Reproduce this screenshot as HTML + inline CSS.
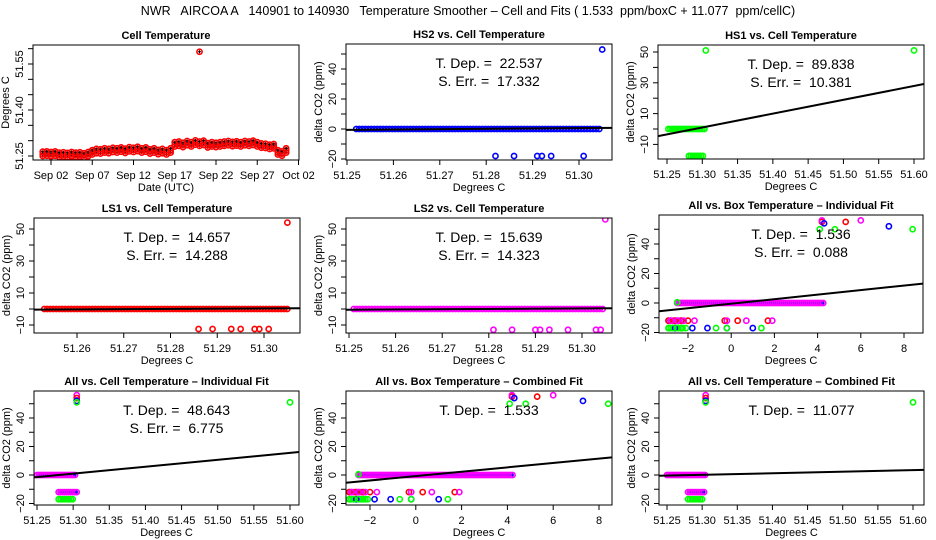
<!DOCTYPE html>
<html><head><meta charset="utf-8"><style>
body{margin:0;background:#fff;}
svg{display:block;font-family:"Liberation Sans",sans-serif;}
.pre{white-space:pre;}
</style></head><body>
<svg id="c" width="936" height="540" xmlns="http://www.w3.org/2000/svg">
<rect width="936" height="540" fill="#fff"/>
<text class="pre" x="468" y="15" text-anchor="middle" font-size="12.5">NWR   AIRCOA A   140901 to 140930   Temperature Smoother – Cell and Fits ( 1.533  ppm/boxC + 11.077  ppm/cellC)</text>
</svg>
<script>
// ---------- data ----------
const p1Values = [51.257,51.258,51.256,51.258,51.254,51.255,51.253,51.256,51.254,51.255,51.252,51.256,
 51.262,51.266,51.265,51.268,51.266,51.270,51.268,51.271,51.267,51.272,
 51.270,51.273,51.268,51.271,51.265,51.268,51.263,51.266,51.262,51.268,
 51.288,51.290,51.286,51.292,51.288,51.294,51.290,51.293,51.285,51.288,
 51.286,51.288,51.290,51.292,51.289,51.291,51.288,51.292,51.290,51.293,
 51.288,51.284,51.283,51.280,51.282,51.262,51.258,51.268];
const p1StartDay = 1.0;
const p1OutlierDay = [20.0];
const p1OutlierVal = [51.59];
const p1TickDays = [2,7,12,17,22,27,32];
const p1TickLabels = ["Sep 02","Sep 07","Sep 12","Sep 17","Sep 22","Sep 27","Oct 02"];

const hs2OutX = [51.282,51.286,51.291,51.292,51.294,51.301,51.305];
const hs2OutY = [-18,-18,-18,-18,-18,-18,53];
const hs1OutX = [51.305,51.60];
const hs1OutY = [51,51];
const ls1OutX = [51.286,51.289,51.293,51.295,51.298,51.299,51.301,51.305];
const ls1OutY = [-12.5,-12.5,-12.5,-12.5,-12.5,-12.5,-12.5,54];
const ls2OutX = [51.281,51.285,51.290,51.291,51.293,51.297,51.303,51.304,51.305];
const ls2OutY = [-13,-13,-13,-13,-13,-13,-13,-13,56];
const boxRedX = [-2.9,-2.6,-2.3,-2.0,-0.3,0.3,1.7,4.2,5.3];
const boxRedY = [-12,-12,-12,-12,-12,-12,-12,55,55];
const boxMagX = [-2.8,-2.5,-2.2,-1.7,-0.2,0.7,1.9,4.2,6.0];
const boxMagY = [-12,-12,-12,-12,-12,-12,-12,56,56];
const boxBlueX = [-2.6,-1.8,-1.1,-0.2,1.0,4.3,7.3];
const boxBlueY = [-17,-17,-17,-17,-17,54,52];
const boxGreenX = [-2.9,-2.7,-2.5,-2.3,-2.1,-0.7,-0.2,1.4,-2.5,4.1,4.8,8.4];
const boxGreenY = [-17,-17,-17,-17,-17,-17,-17,-17,0.5,50,50,50];
const cellAllX = [51.305,51.305,51.305,51.305,51.60];
const cellAllY = [56,54,52,51,51];
const cellAllC = ["#ff00ff","#ff0000","#0000ff","#00ff00","#00ff00"];

// fit lines: slope and x where line crosses 0
const fitSlope = [22.537,89.838,14.657,15.639,1.536,48.643,1.533,11.077];
const fitZero  = [51.275,51.289,51.275,51.278,0.3,51.281,0.5,51.29];
const tdepText = ["22.537","89.838","14.657","15.639","1.536","48.643","1.533","11.077"];
const serrText = ["17.332","10.381","14.288","14.323","0.088","6.775",null,null];

// ---------- helpers ----------
const svg=document.getElementById('c');
const NS='http://www.w3.org/2000/svg';
function el(tag,attrs,parent){const e=document.createElementNS(NS,tag);for(const k in attrs)e.setAttribute(k,attrs[k]);(parent||svg).appendChild(e);return e;}
function sc(v0,p0,v1,p1){const k=(p1-p0)/(v1-v0);return v=>p0+(v-v0)*k;}
function rng(a,b,s){const r=[];for(let v=a;v<=b+s*1e-6;v+=s)r.push(+v.toFixed(6));return r;}

function panel(o){
  const g=el('g',{});
  
  
  const [L,T,R,B]=o.box;
  const t=el('text',{x:(L+R)/2,y:T-6,'text-anchor':'middle','font-size':11,'font-weight':'bold'},g);
  t.textContent=o.title;
  
  
  const clipId='cl'+Math.round(L)+'_'+Math.round(T);
  const cp=el('clipPath',{id:clipId},g);el('rect',{x:L,y:T,width:R-L,height:B-T},cp);
  const plot=el('g',{'clip-path':'url(#'+clipId+')'},g);
  o.draw(plot,o.x,o.y);
  const fr=el('rect',{x:L,y:T,width:R-L,height:B-T,fill:'none',stroke:'#000','stroke-width':1},g);
  
  
  o.xt.forEach((v,i)=>{const px=o.x(v);
    el('line',{x1:px,x2:px,y1:B,y2:B+5,stroke:'#000'},g);
    const lab=o.xl?o.xl[i]:v.toFixed(o.xd);
    if(lab!==''){const tx=el('text',{x:px,y:B+19,'text-anchor':'middle','font-size':11},g);tx.textContent=lab;
      
      }
  });
  const xa=el('text',{x:(L+R)/2,y:B+31,'text-anchor':'middle','font-size':11},g);xa.textContent=o.xlab;
  
  
  o.yt.forEach(v=>{const py=o.y(v);el('line',{x1:L-5,x2:L,y1:py,y2:py,stroke:'#000'},g);});
  o.ylv.forEach(v=>{const py=o.y(v);
    const tx=el('text',{x:L-10,y:py,'text-anchor':'middle','font-size':11,transform:`rotate(-90 ${L-10} ${py})`},g);
    tx.textContent=o.yd?v.toFixed(o.yd):String(v).replace('-','−');
    
    
  });
  const yl=el('text',{x:L-24,y:(T+B)/2,'text-anchor':'middle','font-size':11,transform:`rotate(-90 ${L-24} ${(T+B)/2})`},g);
  yl.textContent=o.ylab;
  
  
  if(o.fit!==undefined){
    const s=fitSlope[o.fit],z=fitZero[o.fit];
    const xa0=o.x.inv(L),xa1=o.x.inv(R);
    const ln=el('line',{x1:L,y1:o.y(s*(xa0-z)),x2:R,y2:o.y(s*(xa1-z)),stroke:'#000','stroke-width':2},plot);
    
    
    const cx=(L+R)/2+10;
    const a=el('text',{x:cx,y:T+24,'text-anchor':'middle','font-size':14,'class':'pre'},g);a.textContent='T. Dep. =  '+tdepText[o.fit];
    
    
    if(serrText[o.fit]){const b=el('text',{x:cx,y:T+42,'text-anchor':'middle','font-size':14,'class':'pre'},g);b.textContent='S. Err. =  '+serrText[o.fit];
      
      }
  }
}
function lin(v0,p0,v1,p1){const f=sc(v0,p0,v1,p1);f.inv=sc(p0,v0,p1,v1);return f;}
function circ(g,px,py,col,cross){
  const c=el('circle',{cx:px,cy:py,r:2.6,fill:'none',stroke:col,'stroke-width':1.6},g);
  
  
  if(cross)el('path',{d:`M${px-1.5} ${py}h3M${px} ${py-1.5}v3`,stroke:cross,'stroke-width':1},g);
}
function band(g,x,y,a,b,lev,col,cross,step){
  const pa=x(a),pb=x(b);for(let p=pa;p<=pb+0.01;p+=(step||3))circ(g,p,y(lev),col,cross);
}
const CELLY=[-20,-10,0,10,20,30,40,50], CELLYL=[-20,0,20,40];

// ---------- P1 ----------
{const x=lin(2,51,32,298.5),y=lin(51.25,156,51.55,64);
panel({name:'cell-temperature-panel',title:'Cell Temperature',box:[33,45,299,160],x,y,
 xt:p1TickDays,xl:p1TickLabels,xlab:'Date (UTC)',yt:rng(51.25,51.60,0.05),ylv:[51.25,51.40,51.55],yd:2,ylab:'Degrees C',
 draw:(g,x,y)=>{p1Values.forEach((v,i)=>{const d=p1StartDay+i*0.5;[-0.007,0,0.007].forEach(o=>circ(g,x(d),y(v+o),'#ff0000','#000'));});
  p1OutlierDay.forEach((d,i)=>circ(g,x(d),y(p1OutlierVal[i]),'#ff0000','#000'));}});}
// ---------- P2 HS2 ----------
{const x=lin(51.25,347,51.30,579),y=lin(0,129,40,69);
panel({name:'hs2-panel',title:'HS2 vs. Cell Temperature',box:[346,44,612,160],x,y,fit:0,
 xt:rng(51.25,51.30,0.01),xd:2,xlab:'Degrees C',yt:CELLY,ylv:CELLYL,ylab:'delta CO2 (ppm)',
 draw:(g,x,y)=>{band(g,x,y,51.252,51.305,0,'#0000ff');hs2OutX.forEach((v,i)=>circ(g,x(v),y(hs2OutY[i]),'#0000ff'));}});}
// ---------- P3 HS1 ----------
{const x=lin(51.25,667,51.60,914),y=lin(0,129,50,52);
panel({name:'hs1-panel',title:'HS1 vs. Cell Temperature',box:[658,45,924,159],x,y,fit:1,
 xt:rng(51.25,51.60,0.05),xd:2,xlab:'Degrees C',yt:rng(-10,50,10),ylv:[-10,10,30,50],ylab:'delta CO2 (ppm)',
 draw:(g,x,y)=>{band(g,x,y,51.252,51.305,0,'#00ff00',null,2);band(g,x,y,51.281,51.302,-17.5,'#00ff00',null,2);
  hs1OutX.forEach((v,i)=>circ(g,x(v),y(hs1OutY[i]),'#00ff00'));}});}
// ---------- P4 LS1 ----------
{const x=lin(51.26,77,51.30,264),y=lin(0,309,50,229);
panel({name:'ls1-panel',title:'LS1 vs. Cell Temperature',box:[34,218,300,333],x,y,fit:2,
 xt:rng(51.26,51.30,0.01),xd:2,xlab:'Degrees C',yt:rng(-10,50,10),ylv:[-10,10,30,50],ylab:'delta CO2 (ppm)',
 draw:(g,x,y)=>{band(g,x,y,51.253,51.305,0,'#ff0000');ls1OutX.forEach((v,i)=>circ(g,x(v),y(ls1OutY[i]),'#ff0000'));}});}
// ---------- P5 LS2 ----------
{const x=lin(51.25,349,51.30,582),y=lin(0,309,50,229);
panel({name:'ls2-panel',title:'LS2 vs. Cell Temperature',box:[346,218,612,333],x,y,fit:3,
 xt:rng(51.25,51.30,0.01),xd:2,xlab:'Degrees C',yt:rng(-10,50,10),ylv:[-10,10,30,50],ylab:'delta CO2 (ppm)',
 draw:(g,x,y)=>{band(g,x,y,51.251,51.305,0,'#ff00ff');ls2OutX.forEach((v,i)=>circ(g,x(v),y(ls2OutY[i]),'#ff00ff'));}});}
function boxDraw(g,x,y){
  band(g,x,y,-2.5,4.3,0,'#ff00ff','#0000ff',2);
  band(g,x,y,-2.9,-2.2,-17,'#00ff00',null,2);
  band(g,x,y,-2.9,-2.3,-12,'#ff00ff','#0000ff',2);
  boxRedX.forEach((v,i)=>circ(g,x(v),y(boxRedY[i]),'#ff0000'));
  boxMagX.forEach((v,i)=>circ(g,x(v),y(boxMagY[i]),'#ff00ff'));
  boxBlueX.forEach((v,i)=>circ(g,x(v),y(boxBlueY[i]),'#0000ff'));
  boxGreenX.forEach((v,i)=>circ(g,x(v),y(boxGreenY[i]),'#00ff00'));
}
function cellDraw(g,x,y){
  band(g,x,y,51.25,51.305,0,'#ff00ff','#0000ff',2);
  band(g,x,y,51.28,51.305,-12,'#ff00ff','#0000ff',2);
  band(g,x,y,51.28,51.302,-17,'#00ff00',null,2);
  cellAllX.forEach((v,i)=>circ(g,x(v),y(cellAllY[i]),cellAllC[i]));
}
// ---------- P6 ----------
{const x=lin(-2,688,8,904),y=lin(0,303,40,244);
panel({name:'all-box-individual-panel',title:'All vs. Box Temperature – Individual Fit',box:[659,215,923,333],x,y,fit:4,
 xt:rng(-2,8,2),xl:['−2','0','2','4','6','8'],xlab:'Degrees C',yt:rng(-20,50,10),ylv:CELLYL,ylab:'delta CO2 (ppm)',draw:boxDraw});}
// ---------- P7 ----------
{const x=lin(51.25,37,51.60,290),y=lin(0,475,40,418);
panel({name:'all-cell-individual-panel',title:'All vs. Cell Temperature – Individual Fit',box:[34,391,299,505],x,y,fit:5,
 xt:rng(51.25,51.60,0.05),xd:2,xlab:'Degrees C',yt:rng(-20,50,10),ylv:CELLYL,ylab:'delta CO2 (ppm)',draw:cellDraw});}
// ---------- P8 ----------
{const x=lin(-2,370,8,599),y=lin(0,475,40,418);
panel({name:'all-box-combined-panel',title:'All vs. Box Temperature – Combined Fit',box:[346,391,612,505],x,y,fit:6,
 xt:rng(-2,8,2),xl:['−2','0','2','4','6','8'],xlab:'Degrees C',yt:rng(-20,50,10),ylv:CELLYL,ylab:'delta CO2 (ppm)',draw:boxDraw});}
// ---------- P9 ----------
{const x=lin(51.25,667,51.60,913),y=lin(0,475,40,418);
panel({name:'all-cell-combined-panel',title:'All vs. Cell Temperature – Combined Fit',box:[659,391,924,505],x,y,fit:7,
 xt:rng(51.25,51.60,0.05),xd:2,xlab:'Degrees C',yt:rng(-20,50,10),ylv:CELLYL,ylab:'delta CO2 (ppm)',draw:cellDraw});}
</script>
</body></html>
